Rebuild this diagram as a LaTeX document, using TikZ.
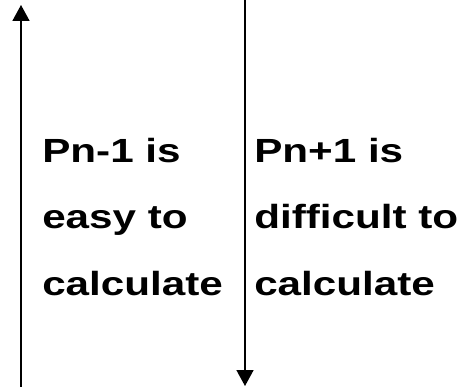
\documentclass[tikz,border=0pt]{standalone}
\usepackage{fontspec}
\setmainfont{Liberation Sans}
\usetikzlibrary{arrows.meta,positioning}
\begin{document}
\begin{tikzpicture}[
    x=1pt, y=1pt,
    txt/.style={anchor=base west, align=left, inner sep=0pt, xscale=1.26, font=\bfseries\fontsize{33.5}{66.5}\selectfont},
    arrow/.style={-{Triangle[length=16pt,width=17pt]}, line width=1.6pt}
]
    \useasboundingbox (0,0) rectangle (471,-387);
    \coordinate (lbot) at (21,-387);
    \coordinate (ltop) at (21,-5);
    \coordinate (rtop) at (245,0);
    \coordinate (rbot) at (245,-386);

    % base anchor sits on the last line
    \node (easy) [txt] at (42,-295) {Pn-1 is\\easy to\\calculate};
    \node (hard) [txt] at (254,-295) {Pn+1 is\\difficult to\\calculate};

    \draw [arrow] (lbot) -- (ltop);
    \draw [arrow] (rtop) -- (rbot);
\end{tikzpicture}
\end{document}
